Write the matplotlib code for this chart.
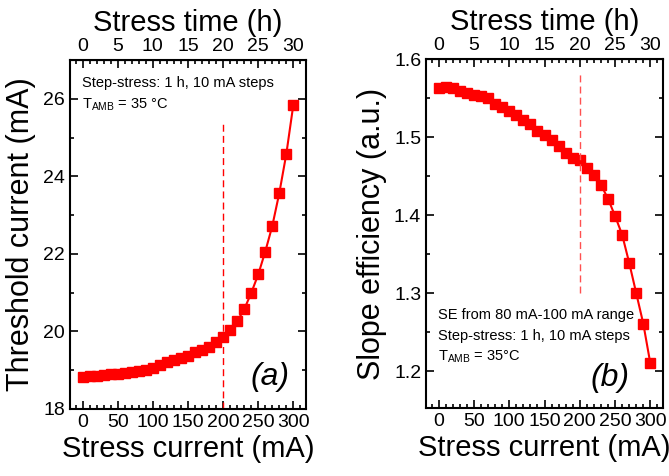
import matplotlib
matplotlib.use("Agg")
import matplotlib.pyplot as plt
from matplotlib.ticker import MultipleLocator

plt.rcParams['font.family'] = ['Liberation Sans', 'DejaVu Sans']

# stress current steps (mA), 1 h per step
current = [0, 10, 20, 30, 40, 50, 60, 70, 80, 90, 100, 110, 120, 130, 140, 150,
           160, 170, 180, 190, 200, 210, 220, 230, 240, 250, 260, 270, 280, 290, 300]

# threshold current (mA)
ith = [18.83, 18.84, 18.86, 18.88, 18.90, 18.91, 18.93, 18.95, 18.97, 19.00, 19.06,
       19.14, 19.20, 19.27, 19.31, 19.37, 19.46, 19.53, 19.59, 19.72, 19.85,
       20.03, 20.26, 20.57, 20.99, 21.47, 22.06, 22.72, 23.57, 24.58, 25.85]

# slope efficiency (a.u.)
se = [1.5625, 1.5646, 1.563, 1.559, 1.556, 1.554, 1.553, 1.550, 1.543, 1.538, 1.533,
      1.528, 1.522, 1.517, 1.508, 1.503, 1.496, 1.488, 1.480, 1.473, 1.471,
      1.460, 1.451, 1.439, 1.421, 1.399, 1.375, 1.339, 1.300, 1.261, 1.210]

red = '#ff0000'
fig = plt.figure(figsize=(6.69, 4.76), dpi=100)
ax1 = fig.add_axes([0.1046, 0.1408, 0.3528, 0.733])
ax2 = fig.add_axes([0.6368, 0.1429, 0.3543, 0.733])


def style(ax):
    ax.set_xlim(-18, 318)
    ax.xaxis.set_major_locator(MultipleLocator(50))
    ax.xaxis.set_minor_locator(MultipleLocator(10))
    ax.tick_params(which='both', direction='in', top=False, right=True,
                   width=1.2, labelsize=14)
    ax.tick_params(which='major', length=6)
    ax.tick_params(which='minor', length=3)
    for s in ax.spines.values():
        s.set_linewidth(1.5)
    ax.set_xlabel('Stress current (mA)', fontsize=21, labelpad=3)
    top = ax.secondary_xaxis('top', functions=(lambda x: x / 10, lambda x: x * 10))
    top.xaxis.set_major_locator(MultipleLocator(5))
    top.xaxis.set_minor_locator(MultipleLocator(1))
    top.tick_params(which='both', direction='in', width=1.2, labelsize=14)
    top.tick_params(which='major', length=6)
    top.tick_params(which='minor', length=3)
    top.set_xlabel('Stress time (h)', fontsize=21, labelpad=5)


# (a) threshold current
ax1.plot(current, ith, '-s', color=red, lw=1.5, ms=7)
ax1.vlines(200, 18, 25.4, colors=red, linestyles=(0, (5, 3)), lw=1)
ax1.set_ylim(18, 27)
ax1.yaxis.set_major_locator(MultipleLocator(2))
ax1.yaxis.set_minor_locator(MultipleLocator(1))
style(ax1)
ax1.set_ylabel('Threshold current (mA)', fontsize=22, labelpad=5)
ax1.text(0.05, 0.934, 'Step-stress: 1 h, 10 mA steps', transform=ax1.transAxes,
         fontsize=10.5, va='center')
ax1.text(0.05, 0.871, r'T$_{\mathregular{AMB}}$ = 35 °C', transform=ax1.transAxes,
         fontsize=10.5, va='center')
ax1.text(0.93, 0.092, '(a)', transform=ax1.transAxes, fontsize=23,
         style='italic', ha='right', va='center')

# (b) slope efficiency
ax2.plot(current, se, '-s', color=red, lw=1.5, ms=7)
ax2.vlines(200, 1.30, 1.585, colors='#ff5050', linestyles=(0, (5, 3)), lw=1)
ax2.set_ylim(1.153, 1.6)
ax2.yaxis.set_major_locator(MultipleLocator(0.1))
ax2.yaxis.set_minor_locator(MultipleLocator(0.05))
style(ax2)
ax2.set_ylabel('Slope efficiency (a.u.)', fontsize=22, labelpad=5)
ax2.text(0.05, 0.266, 'SE from 80 mA-100 mA range', transform=ax2.transAxes,
         fontsize=10.5, va='center')
ax2.text(0.05, 0.206, 'Step-stress: 1 h, 10 mA steps', transform=ax2.transAxes,
         fontsize=10.5, va='center')
ax2.text(0.05, 0.146, r'T$_{\mathregular{AMB}}$ = 35°C', transform=ax2.transAxes,
         fontsize=10.5, va='center')
ax2.text(0.86, 0.086, '(b)', transform=ax2.transAxes, fontsize=23,
         style='italic', ha='right', va='center')

fig.savefig('out.png', dpi=100)
